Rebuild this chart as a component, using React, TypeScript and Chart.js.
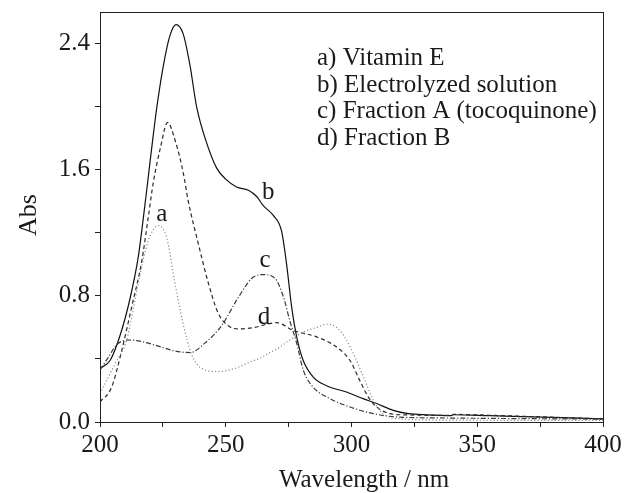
import React, { useEffect, useRef } from "react";
import { Chart, registerables } from "chart.js";

Chart.register(...registerables);

// a) Vitamin E (dotted)
const aWl = [200, 206, 210.6, 215.2, 219.2, 223.2, 226.5, 229.8, 233.1, 236.4, 240.4, 247, 253.7, 259.6, 264.3, 267.6, 271, 275.5, 280.8, 286.1, 290.1, 294.1, 298, 302, 305.4, 308.7, 312.6, 319.3, 340, 400];
const aAbs = [0.18, 0.37, 0.52, 0.88, 1.15, 1.245, 1.17, 0.88, 0.62, 0.43, 0.34, 0.32, 0.34, 0.38, 0.41, 0.44, 0.47, 0.52, 0.57, 0.6, 0.62, 0.6, 0.52, 0.39, 0.26, 0.137, 0.053, 0.02, 0.012, 0.01];

// b) Electrolyzed solution (solid)
const bWl = [200, 204, 208, 211.9, 215.2, 217.2, 218.5, 220.5, 222.5, 225.2, 227.8, 230.2, 233.1, 235.8, 238.4, 242.4, 246.4, 250, 254.3, 259, 262.3, 265, 268.9, 272.2, 274.2, 276.2, 278.2, 280.8, 284.8, 290.1, 298, 304.6, 310, 316.6, 322.6, 330, 339.5, 340.5, 355, 372, 400];
const bAbs = [0.34, 0.39, 0.55, 0.78, 1.045, 1.29, 1.46, 1.73, 1.985, 2.26, 2.45, 2.52, 2.46, 2.26, 2.0, 1.77, 1.61, 1.54, 1.49, 1.47, 1.43, 1.37, 1.31, 1.21, 1.0, 0.73, 0.54, 0.39, 0.285, 0.23, 0.19, 0.148, 0.117, 0.074, 0.053, 0.045, 0.04, 0.046, 0.04, 0.032, 0.02];

// c) Fraction A (tocoquinone) (dash-dot)
const cWl = [200, 203.3, 206.6, 211.3, 216.6, 224.5, 229.8, 235.8, 241.7, 248.3, 255, 260.3, 264.6, 269.6, 273, 275.5, 278.2, 280.8, 284.8, 291.5, 299.4, 308.7, 318, 340, 400];
const cAbs = [0.33, 0.41, 0.49, 0.52, 0.51, 0.475, 0.45, 0.44, 0.5, 0.61, 0.79, 0.91, 0.935, 0.91, 0.79, 0.64, 0.5, 0.33, 0.22, 0.148, 0.095, 0.053, 0.032, 0.025, 0.018];

// d) Fraction B (dashed)
const dWl = [200, 204.6, 208.6, 212.6, 216.6, 219.2, 221.2, 223.9, 226.9, 229.8, 233.1, 235.1, 239.1, 243.1, 247, 251, 255, 261.6, 266.2, 270.2, 276.9, 286.1, 294.1, 299.4, 303.4, 306.7, 310, 315.3, 322, 339.5, 340.5, 360, 400];
const dAbs = [0.127, 0.22, 0.45, 0.73, 1.02, 1.3, 1.52, 1.73, 1.9, 1.79, 1.58, 1.4, 1.13, 0.88, 0.69, 0.61, 0.59, 0.6, 0.62, 0.63, 0.58, 0.54, 0.475, 0.39, 0.26, 0.158, 0.095, 0.053, 0.045, 0.042, 0.048, 0.04, 0.02];

const legendLines = ["a) Vitamin E", "b) Electrolyzed solution", "c) Fraction A (tocoquinone)", "d) Fraction B"];
const curveTags = ["a", "b", "c", "d"];
const xTitle = "Wavelength / nm";
const yTitle = "Abs";

const FONT = "'Liberation Serif', 'Times New Roman', serif";

const toPts = (xs: number[], ys: number[]) => xs.map((x, i) => ({ x, y: ys[i] }));

export default function App() {
  const ref = useRef<HTMLCanvasElement | null>(null);
  useEffect(() => {
    document.body.style.margin = "0";
    const canvas = ref.current!;
    const overlay = {
      id: "overlay",
      afterDraw(chart: any) {
        const ctx = chart.ctx;
        const a = chart.chartArea;
        ctx.save();
        ctx.strokeStyle = "#222";
        ctx.lineWidth = 1;
        ctx.strokeRect(a.left + 0.5, a.top + 0.5, a.right - a.left, a.bottom - a.top);
        ctx.fillStyle = "#1a1a1a";
        ctx.font = `25px ${FONT}`;
        ctx.textAlign = "left";
        ctx.textBaseline = "alphabetic";
        const lb = [65, 91.5, 118.3, 145.3];
        legendLines.forEach((t, i) => ctx.fillText(t, 317, lb[i]));
        ctx.textAlign = "center";
        const tagPos = [
          [161.7, 221],
          [268.3, 198.5],
          [265, 267],
          [264, 324],
        ];
        curveTags.forEach((t, i) => ctx.fillText(t, tagPos[i][0], tagPos[i][1]));
        ctx.fillText(xTitle, 364, 487);
        ctx.save();
        ctx.font = `26px ${FONT}`;
        ctx.translate(36, 215);
        ctx.rotate(-Math.PI / 2);
        ctx.fillText(yTitle, 0, 0);
        ctx.restore();
        ctx.restore();
      },
    };
    const common = { pointRadius: 0, borderWidth: 1.2, fill: false, cubicInterpolationMode: "monotone" as const };
    const chart = new Chart(canvas, {
      type: "line",
      data: {
        datasets: [
          { ...common, label: "a", data: toPts(aWl, aAbs), borderColor: "#8a8a8a", borderDash: [1.2, 2.2] },
          { ...common, label: "d", data: toPts(dWl, dAbs), borderColor: "#2a2a2a", borderDash: [4, 3] },
          { ...common, label: "c", data: toPts(cWl, cAbs), borderColor: "#3a3a3a", borderDash: [5, 2, 1.2, 2] },
          { ...common, label: "b", data: toPts(bWl, bAbs), borderColor: "#111", borderDash: [] },
        ],
      },
      options: {
        responsive: false,
        animation: false,
        layout: { padding: { top: 12, right: 22, left: 0, bottom: 0 } },
        plugins: { legend: { display: false }, tooltip: { enabled: false } },
        scales: {
          x: {
            type: "linear",
            min: 200,
            max: 400,
            border: { display: true, color: "#222", width: 1 },
            grid: { display: true, drawOnChartArea: false, drawTicks: true, tickLength: 5, color: "#222" },
            ticks: {
              stepSize: 25,
              includeBounds: false,
              padding: 3,
              color: "#1a1a1a",
              font: { family: FONT, size: 25 },
              maxRotation: 0,
              autoSkip: false,
              callback: (v: any) => (Number(v) % 50 === 0 ? String(v) : ""),
            },
            afterFit: (s: any) => {
              s.height = 71;
              s.paddingLeft = 0;
              s.paddingRight = 0;
            },
          },
          y: {
            type: "linear",
            min: 0,
            max: 2.6,
            border: { display: true, color: "#222", width: 1 },
            grid: { display: true, drawOnChartArea: false, drawTicks: true, tickLength: 5, color: "#222" },
            ticks: {
              stepSize: 0.4,
              includeBounds: false,
              padding: 5,
              color: "#1a1a1a",
              font: { family: FONT, size: 25 },
              autoSkip: false,
              callback: (v: any) => {
                const n = Number(v);
                const k = Math.round(n / 0.8);
                return Math.abs(k * 0.8 - n) < 1e-6 ? n.toFixed(1) : "";
              },
            },
            afterFit: (s: any) => {
              s.width = 100;
              s.paddingTop = 0;
              s.paddingBottom = 0;
            },
          },
        },
      },
      plugins: [overlay],
    });
    return () => chart.destroy();
  }, []);
  return (
    <div style={{ width: 625, height: 493 }}>
      <canvas ref={ref} width={625} height={493} />
    </div>
  );
}
